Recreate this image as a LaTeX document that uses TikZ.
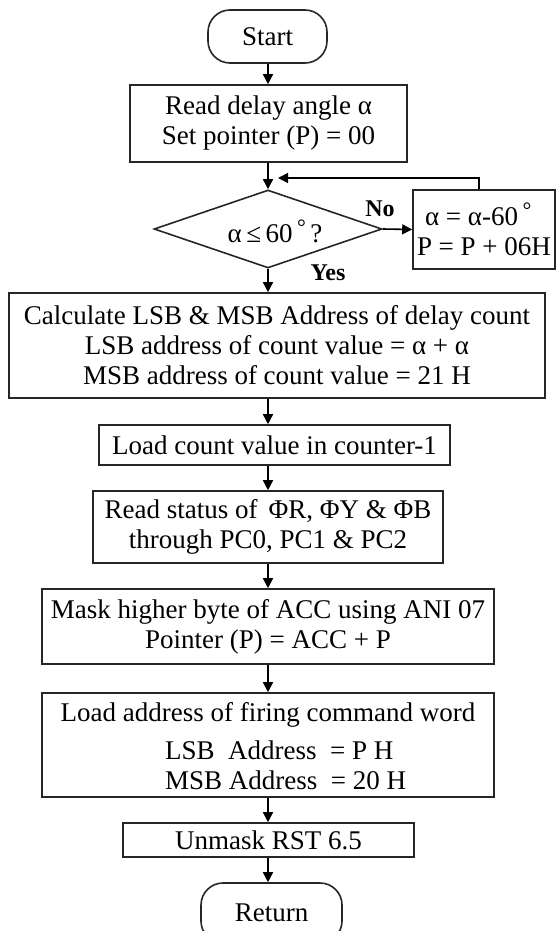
\documentclass[tikz,border=0pt]{standalone}
\usepackage{fontspec}
\setmainfont{Liberation Serif}
\usetikzlibrary{shapes.geometric,arrows.meta}
\tikzset{
  box/.style={draw=black!85, line width=1.6pt, inner sep=0pt, align=center, font=\fontsize{27}{30}\selectfont},
  term/.style={box, rounded corners=22pt},
  dec/.style={draw=black!85, line width=1.6pt, shape=diamond, aspect=2.92, inner sep=0pt, minimum width=228pt, minimum height=78pt},
  arr/.style={draw=black, line width=1.6pt, -{Triangle[width=10pt,length=10pt]}},
  lbl/.style={font=\fontsize{24}{28}\selectfont\bfseries, inner sep=0pt}
}
\newcommand{\degsym}{\raisebox{8pt}{\fontsize{22}{22}\selectfont°}}
\begin{document}
\begin{tikzpicture}[x=1pt,y=-1pt]
\useasboundingbox (0,0) rectangle (556,931);
\clip (0,0) rectangle (556,931);
\node[term, minimum width=119pt, minimum height=53pt] (start) at (267.5,36.5) {Start};
\node[box, minimum width=277pt, minimum height=77pt] (read) at (268.5,123.5) {Read delay angle α\\Set pointer (P) = 00};
\node[dec] (dia) at (268,229) {};
\node[font=\fontsize{27}{30}\selectfont, inner sep=0pt] (diat) at (275,231) {α\,≤\,60\,\degsym\,?};
\node[box, minimum width=142pt, minimum height=79pt, align=left] (right) at (484,229.5) {\hspace{8pt}α = α-60\,\degsym\\P = P + 06H};
\node[lbl] (no) at (380,209) {No};
\node[lbl] (yes) at (328,273) {Yes};
\node[box, minimum width=536pt, minimum height=105pt] (calc) at (277,345.5) {Calculate LSB \& MSB Address of delay count\\LSB address of count value = α + α\\MSB address of count value = 21 H};
\node[box, minimum width=351pt, minimum height=40pt] (loadc) at (274.5,445) {Load count value in counter-1};
\node[box, minimum width=350pt, minimum height=72pt] (status) at (268,527) {Read status of \,ΦR, ΦY \& ΦB\\through PC0, PC1 \& PC2};
\node[box, minimum width=452pt, minimum height=104pt] (loada) at (268,745) {};
\node[font=\fontsize{27}{30}\selectfont, inner sep=0pt] (loadat) at (268,715) {Load address of firing command word};
\node[font=\fontsize{27}{30}\selectfont, inner sep=0pt, anchor=west, align=left] (loadab) at (165,765) {LSB~~Address~~= P H\\MSB Address~~= 20 H};
\node[box, minimum width=452pt, minimum height=75pt] (mask) at (268,626.5) {Mask higher byte of ACC using ANI 07\\Pointer (P) = ACC + P};
\node[box, minimum width=291pt, minimum height=34pt] (unmask) at (268.5,840) {Unmask RST 6.5};
\node[term, minimum width=141pt, minimum height=60pt] (ret) at (271.5,913) {Return};
\coordinate (loopend) at (278,178);
\coordinate (axis) at (268,0);
\draw[arr] (start.south -| axis) -- (read.north -| axis);
\draw[arr] (read.south -| axis) -- (dia.north);
\draw[arr] (dia.east) -- (right.west);
\draw[arr] ([xshift=-5pt]right.north) |- (loopend);
\draw[arr] (dia.south) -- (calc.north -| axis);
\draw[arr] (calc.south -| axis) -- (loadc.north -| axis);
\draw[arr] (loadc.south -| axis) -- (status.north -| axis);
\draw[arr] (status.south -| axis) -- (mask.north -| axis);
\draw[arr] (mask.south -| axis) -- (loada.north -| axis);
\draw[arr] (loada.south -| axis) -- (unmask.north -| axis);
\draw[arr] (unmask.south -| axis) -- (ret.north -| axis);
\end{tikzpicture}
\end{document}
